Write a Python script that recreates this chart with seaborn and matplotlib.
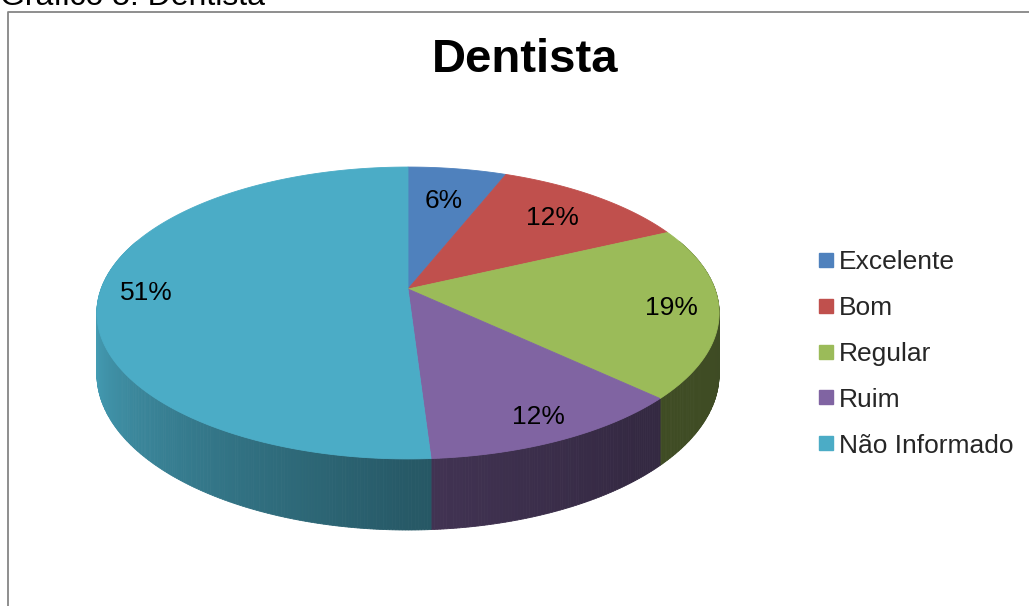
import numpy as np
import matplotlib
matplotlib.use("Agg")
import matplotlib.pyplot as plt
from matplotlib.patches import Polygon
from matplotlib.lines import Line2D
import seaborn as sns

# ---- data -------------------------------------------------------------
categories = ["Excelente", "Bom", "Regular", "Ruim", "Não Informado"]
percentages = [6, 12, 19, 12, 51]
slice_colors = ["#4F81BD", "#C0504D", "#9BBB59", "#8064A2", "#4BACC6"]
chart_title = "Dentista"
caption = "Gráfico 5: Dentista"

# ---- style ------------------------------------------------------------
sns.set_theme(style="white")
plt.rcParams["font.family"] = ["Liberation Sans", "DejaVu Sans"]
palette = sns.color_palette(slice_colors)

W, H = 1029, 606
fig = plt.figure(figsize=(W / 100, H / 100), dpi=100)
ax = fig.add_axes([0, 0, 1, 1])
ax.set_xlim(0, W)
ax.set_ylim(H, 0)
ax.axis("off")

# ---- perspective disc geometry ----------------------------------------
CX, CY = 408.0, 289.0      # projected centre of the disc
RX, RY = 306.9, 142.0      # horizontal / depth radii
K = 0.1643                 # perspective strength
DEPTH = 59.4               # thickness of the disc


def project(X, Y, z=0.0):
    f = 1.0 / (1.0 + K * Y)
    return CX + RX * X * f, CY - RY * Y * f + DEPTH * z * f


def rim(theta_deg, r=1.0, z=0.0):
    t = np.radians(theta_deg)
    return project(r * np.sin(t), r * np.cos(t), z)


# side shading as a function of the direction the wall faces
shade_angles = [0, 90, 140, 180, 220, 262, 300, 360]
shade_values = [0.40, 0.40, 0.41, 0.52, 0.72, 0.93, 0.93, 0.40]


def shaded(color, theta):
    s = np.interp(theta % 360, shade_angles, shade_values)
    return tuple(np.clip(np.array(color) * s, 0, 1))


total = float(sum(percentages))
bounds = np.concatenate([[0], np.cumsum(percentages)]) / total * 360.0

# side walls: small segments painted from back to front
segments = []
for i, col in enumerate(palette):
    a0, a1 = bounds[i], bounds[i + 1]
    n = max(2, int(np.ceil((a1 - a0) / 0.5)))
    th = np.linspace(a0, a1, n + 1)
    for t0, t1 in zip(th[:-1], th[1:]):
        tm = 0.5 * (t0 + t1)
        depth_key = np.cos(np.radians(tm))
        if depth_key > 0.35:
            continue
        x0, y0 = rim(t0)
        x1, y1 = rim(t1)
        x2, y2 = rim(t1, z=1.0)
        x3, y3 = rim(t0, z=1.0)
        segments.append((depth_key, [(x0, y0), (x1, y1), (x2, y2), (x3, y3)],
                         shaded(col, tm)))
segments.sort(key=lambda s: -s[0])
for _, pts, c in segments:
    ax.add_patch(Polygon(pts, closed=True, facecolor=c, edgecolor=c,
                         linewidth=0.6, zorder=2))

# top faces
for i, col in enumerate(palette):
    th = np.linspace(bounds[i], bounds[i + 1], 200)
    xs, ys = rim(th)
    pts = [(CX, CY)] + list(zip(xs, ys))
    ax.add_patch(Polygon(pts, closed=True, facecolor=col, edgecolor=col,
                         linewidth=0.6, zorder=3))

# percentage labels
label_radius = [0.70, 0.75, 0.85, 0.87, 0.85]
for i, p in enumerate(percentages):
    mid = 0.5 * (bounds[i] + bounds[i + 1])
    lx, ly = rim(mid, r=label_radius[i])
    ax.text(lx, ly, f"{p}%", ha="center", va="center", fontsize=19,
            color="black", zorder=5)

# title and caption
ax.text(525, 60, chart_title, ha="center", va="center", fontsize=34,
        fontweight="bold", color="black", zorder=5)
ax.text(0, 5, caption, ha="left", va="baseline", fontsize=23,
        color="black", zorder=5)

# chart frame
ax.plot([8, 8, W], [H, 12, 12], color="#868686", linewidth=1.3,
        solid_capstyle="butt", zorder=4)

# legend
handles = [Line2D([], [], marker="s", linestyle="", markersize=10,
                  markerfacecolor=c, markeredgecolor=c) for c in palette]
ax.legend(handles, categories, loc="upper left",
          bbox_to_anchor=(818 / W, 1 - 250 / H), frameon=False,
          fontsize=19, handlelength=0.6, handletextpad=0.2,
          labelspacing=0.83, borderpad=0, borderaxespad=0)

fig.savefig("out.png", dpi=100)
